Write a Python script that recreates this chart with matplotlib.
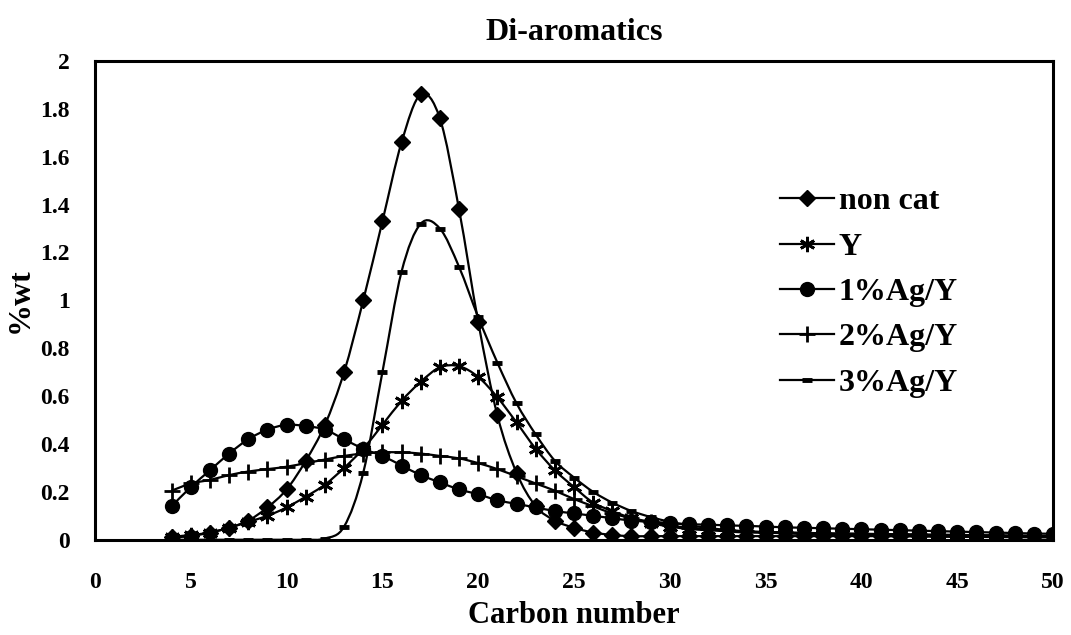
import matplotlib
matplotlib.use("Agg")
import matplotlib.pyplot as plt
from matplotlib.path import Path
from matplotlib.patches import PathPatch
from matplotlib.lines import Line2D
import numpy as np

plt.rcParams['font.family'] = ['Liberation Serif', 'DejaVu Serif']
plt.rcParams['font.weight'] = 'bold'

carbon = list(range(4, 51))

non_cat = [0.01, 0.015, 0.03, 0.05, 0.08, 0.135, 0.21, 0.33, 0.48, 0.70,
           1.00, 1.33, 1.66, 1.86, 1.76, 1.38, 0.91, 0.52, 0.28, 0.14,
           0.08, 0.05, 0.03, 0.02, 0.015, 0.015, 0.015, 0.015, 0.015, 0.015,
           0.015, 0.015, 0.015, 0.015, 0.015, 0.015, 0.015, 0.015, 0.015, 0.015,
           0.015, 0.015, 0.015, 0.015, 0.015, 0.015, 0.015]
y_cat = [0.012, 0.02, 0.03, 0.05, 0.075, 0.10, 0.135, 0.18, 0.23, 0.30,
         0.38, 0.48, 0.58, 0.66, 0.72, 0.725, 0.68, 0.595, 0.49, 0.38,
         0.29, 0.22, 0.155, 0.12, 0.09, 0.07, 0.055, 0.045, 0.04, 0.035,
         0.03, 0.03, 0.028, 0.027, 0.026, 0.025, 0.024, 0.023, 0.022, 0.021,
         0.02, 0.02, 0.019, 0.018, 0.017, 0.016, 0.015]
ag1 = [0.14, 0.22, 0.29, 0.36, 0.42, 0.46, 0.48, 0.475, 0.46, 0.42,
       0.38, 0.35, 0.31, 0.27, 0.24, 0.21, 0.19, 0.165, 0.15, 0.135,
       0.12, 0.11, 0.10, 0.09, 0.08, 0.075, 0.07, 0.065, 0.063, 0.06,
       0.058, 0.055, 0.052, 0.05, 0.048, 0.046, 0.044, 0.042, 0.04, 0.038,
       0.036, 0.034, 0.032, 0.03, 0.028, 0.026, 0.025]
ag2 = [0.205, 0.235, 0.25, 0.27, 0.285, 0.295, 0.305, 0.32, 0.335, 0.35,
       0.36, 0.365, 0.365, 0.36, 0.35, 0.34, 0.32, 0.295, 0.265, 0.235,
       0.205, 0.17, 0.14, 0.11, 0.09, 0.075, 0.06, 0.05, 0.045, 0.04,
       0.035, 0.033, 0.031, 0.029, 0.027, 0.026, 0.025, 0.024, 0.023, 0.022,
       0.021, 0.02, 0.019, 0.018, 0.017, 0.016, 0.015]
ag3 = [0.0, 0.0, 0.0, 0.0, 0.0, 0.0, 0.0, 0.0, 0.005, 0.055,
       0.28, 0.70, 1.12, 1.32, 1.30, 1.14, 0.93, 0.74, 0.57, 0.44,
       0.33, 0.26, 0.20, 0.155, 0.12, 0.095, 0.075, 0.06, 0.05, 0.04,
       0.035, 0.03, 0.027, 0.024, 0.022, 0.02, 0.018, 0.016, 0.015, 0.014,
       0.013, 0.012, 0.012, 0.011, 0.011, 0.01, 0.01]

labels = ["non cat", "Y", "1%Ag/Y", "2%Ag/Y", "3%Ag/Y"]
series = [non_cat, y_cat, ag1, ag2, ag3]
markers = ["D", (6, 2, 0), "o", "+", "_"]
msizes = [8.5, 11, 10, 11, 7]
medges = [1, 2, 1, 2, 3.5]


def smooth_path(x, y):
    # excel-like smoothed line (catmull-rom -> bezier)
    pts = np.column_stack([x, y]).astype(float)
    p = np.vstack([pts[0], pts, pts[-1]])
    verts = [pts[0]]
    codes = [Path.MOVETO]
    for i in range(1, len(p) - 2):
        c1 = p[i] + (p[i + 1] - p[i - 1]) / 6
        c2 = p[i + 1] - (p[i + 2] - p[i]) / 6
        verts += [c1, c2, p[i + 1]]
        codes += [Path.CURVE4] * 3
    return Path(verts, codes)


fig = plt.figure(figsize=(10.71, 6.35), dpi=100)
ax = fig.add_axes([0.0887, 0.150, 0.8945, 0.754])

handles = []
for vals, lab, m, ms, mw in zip(series, labels, markers, msizes, medges):
    ax.add_patch(PathPatch(smooth_path(carbon, vals), fill=False,
                           edgecolor="black", lw=1.6, zorder=2))
    ax.plot(carbon, vals, linestyle="none", marker=m, markersize=ms,
            color="black", mew=mw, zorder=3)
    handles.append(Line2D([], [], color="black", lw=1.6, marker=m,
                          markersize=ms, mew=mw))

ax.set_xlim(0, 50)
ax.set_ylim(0, 2)
ax.set_xticks(range(0, 51, 5))
ax.set_yticks(np.arange(0, 2.01, 0.2))
ax.set_yticklabels(["0", "0.2", "0.4", "0.6", "0.8", "1", "1.2", "1.4", "1.6", "1.8", "2"])
ax.tick_params(length=0, labelsize=17, pad=18)
ax.tick_params(axis="x", pad=23)
for s in ax.spines.values():
    s.set_linewidth(2.2)

ax.set_title("Di-aromatics", fontsize=23, fontweight="bold", pad=15)
ax.set_xlabel("Carbon number", fontsize=22, fontweight="bold", labelpad=6)
ax.set_ylabel("%wt", fontsize=23, fontweight="bold", labelpad=4)

ax.legend(handles, labels, loc="upper left", bbox_to_anchor=(0.728, 0.7055),
          bbox_transform=fig.transFigure, frameon=False, fontsize=23,
          handlelength=1.7, handletextpad=0.15, labelspacing=0.5,
          borderpad=0, borderaxespad=0)

fig.savefig("out.png", dpi=100)
